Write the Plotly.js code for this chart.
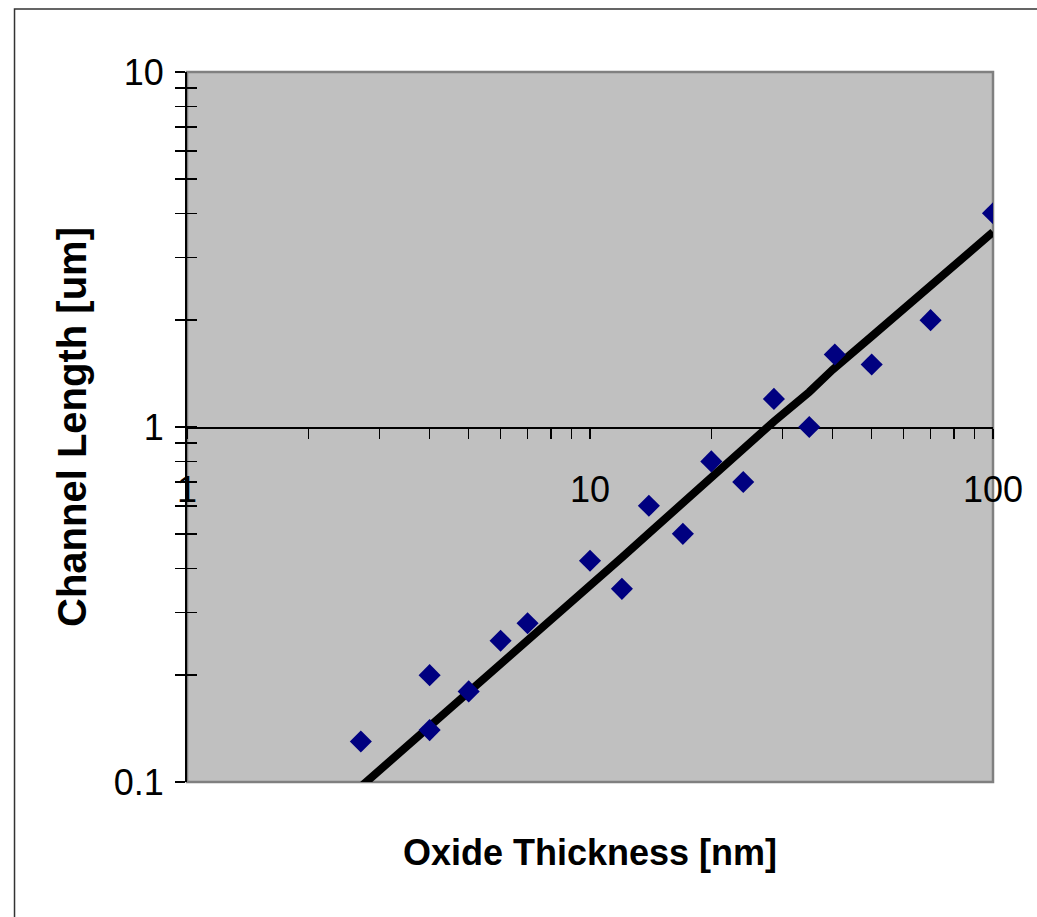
<!DOCTYPE html>
<html>
<head>
<meta charset="utf-8">
<script src="https://cdn.plot.ly/plotly-3.0.1.min.js"></script>
<style>html,body{margin:0;padding:0;background:#fff;}#chart{width:1037px;height:917px;}</style>
</head>
<body>
<div id="chart"></div>
<script>
// Measured points: oxide thickness (nm) vs channel length (um)
const oxideThickness = [2.7, 4, 4, 5, 6, 7, 10, 12, 14, 17, 20, 24, 28.6, 35, 40.5, 50, 70, 100];
const channelLength  = [0.13, 0.2, 0.14, 0.18, 0.25, 0.28, 0.42, 0.35, 0.6, 0.5, 0.8, 0.7, 1.2, 1.0, 1.6, 1.5, 2.0, 4.0];

// Trend line values read at each thickness
const trendThickness = [2.7, 4, 5, 6, 7, 10, 12, 14, 17, 20, 24, 28.6, 35, 40, 50, 70, 100];
const trendLength    = [0.097, 0.143, 0.179, 0.215, 0.25, 0.358, 0.429, 0.502, 0.612, 0.719, 0.867, 1.036, 1.255, 1.45, 1.8, 2.5, 3.54];

// Axis tick labels
const xTickVals = [1,2,3,4,5,6,7,8,9,10,20,30,40,50,60,70,80,90,100];
const xTickText = ['1','','','','','','','','','10','','','','','','','','','100'];
const yTickVals = [0.1,0.2,0.3,0.4,0.5,0.6,0.7,0.8,0.9,1,2,3,4,5,6,7,8,9,10];
const yTickText = ['0.1','','','','','','','','','1','','','','','','','','','10'];

const FONT = '"Liberation Sans", Arial, Helvetica, sans-serif';
const tickFont = {family: FONT, size: 36, color: '#000'};

const traces = [
  {
    x: trendThickness, y: trendLength,
    xaxis: 'x', yaxis: 'y',
    mode: 'lines', type: 'scatter',
    line: {color: '#000000', width: 8},
    hoverinfo: 'skip', showlegend: false
  },
  {
    x: oxideThickness, y: channelLength,
    xaxis: 'x2', yaxis: 'y2',
    mode: 'markers', type: 'scatter',
    marker: {symbol: 'diamond', size: 17, color: '#000080', line: {width: 0}},
    showlegend: false
  }
];

const xr = [0, 2], yr = [-1, 1];
const layout = {
  width: 1037, height: 917,
  margin: {l: 187, r: 44, t: 72, b: 135, autoexpand: false},
  paper_bgcolor: '#ffffff',
  plot_bgcolor: '#C0C0C0',
  showlegend: false,
  font: {family: FONT, color: '#000'},
  xaxis: {
    type: 'log', range: xr, domain: [0, 1], anchor: 'y',
    showgrid: false, zeroline: false, showline: false,
    ticks: '', showticklabels: false, fixedrange: true,
    title: {text: 'Oxide Thickness [nm]', font: {family: FONT, size: 36, color: '#000', weight: 'bold'}, standoff: 57}
  },
  xaxis2: {
    type: 'log', range: xr, overlaying: 'x', anchor: 'free', position: 0.5,
    showgrid: false, zeroline: false,
    showline: true, linecolor: '#000', linewidth: 1.5,
    ticks: 'outside', ticklen: 10, tickwidth: 1.5, tickcolor: '#000',
    tickmode: 'array', tickvals: xTickVals, ticktext: xTickText,
    tickfont: tickFont, ticklabelstandoff: 20, layer: 'below traces'
  },
  xaxis3: {
    type: 'log', range: xr, overlaying: 'x', anchor: 'free', position: 0.5,
    showgrid: false, zeroline: false, showline: false,
    ticks: 'inside', ticklen: 10, tickwidth: 1.5, tickcolor: '#000',
    tickmode: 'array', tickvals: xTickVals, showticklabels: false, layer: 'below traces'
  },
  yaxis: {
    type: 'log', range: yr, domain: [0, 1], anchor: 'x',
    showgrid: false, zeroline: false,
    showline: true, linecolor: '#000', linewidth: 2,
    ticks: 'outside', ticklen: 10, tickwidth: 1.5, tickcolor: '#000',
    tickmode: 'array', tickvals: yTickVals, ticktext: yTickText,
    tickfont: tickFont, ticklabelstandoff: 4,
    title: {text: 'Channel Length [um]', font: {family: FONT, size: 40, color: '#000', weight: 'bold'}, standoff: 15}
  },
  yaxis2: {
    type: 'log', range: yr, overlaying: 'y', anchor: 'x',
    showgrid: false, zeroline: false, showline: false,
    ticks: 'inside', ticklen: 10, tickwidth: 1.5, tickcolor: '#000',
    tickmode: 'array', tickvals: yTickVals, showticklabels: false
  },
  shapes: [
    {type: 'rect', xref: 'paper', yref: 'paper', x0: 0, x1: 1, y0: 0, y1: 1,
     line: {color: '#808080', width: 2.5}, layer: 'below'},
    {type: 'rect', xref: 'paper', yref: 'paper', x0: -0.214, x1: 1.3, y0: -0.4, y1: 1.0887,
     line: {color: '#333333', width: 1.5}, fillcolor: 'rgba(0,0,0,0)', layer: 'below'}
  ]
};

Plotly.newPlot('chart', traces, layout, {displayModeBar: false, staticPlot: true});
</script>
</body>
</html>
